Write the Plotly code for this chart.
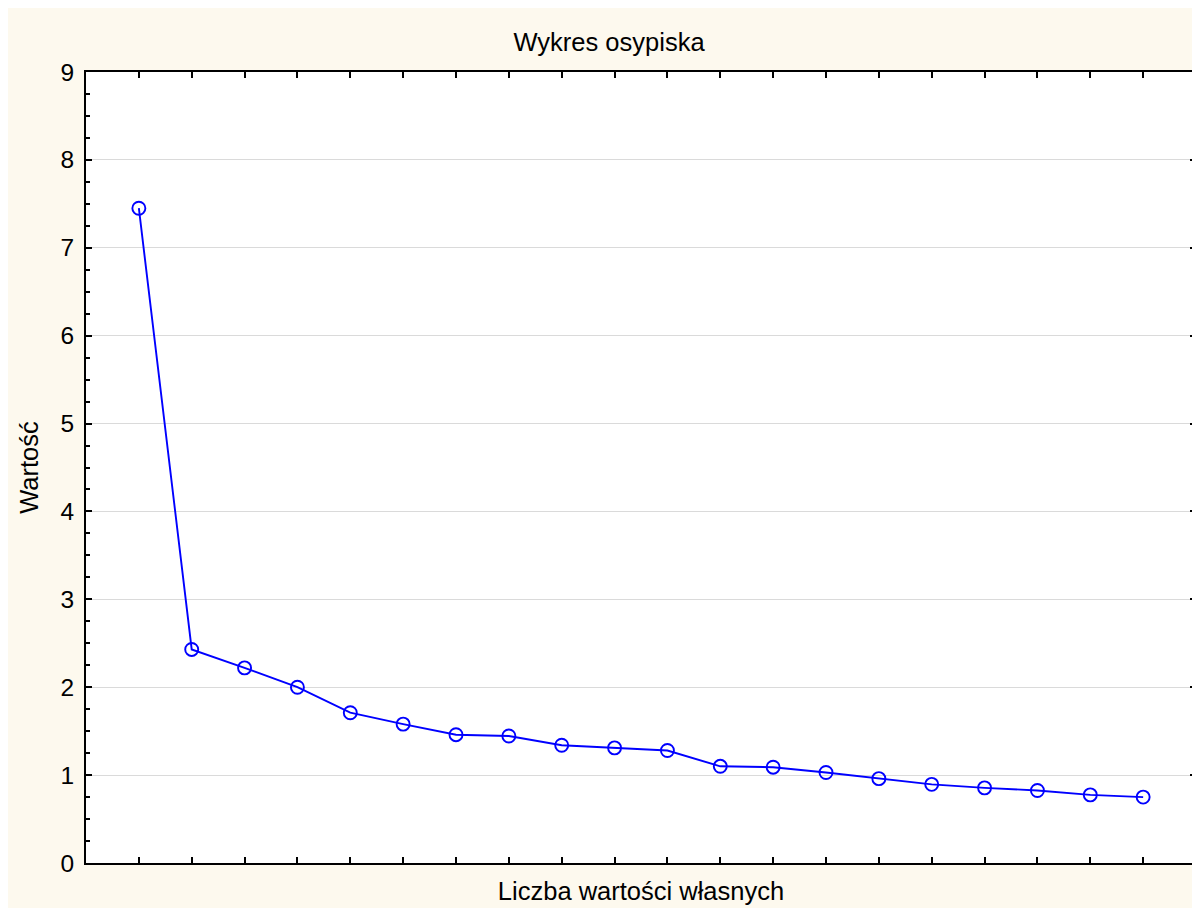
import plotly.graph_objects as go

components = list(range(1, 21))
eigenvalues = [7.45, 2.43, 2.22, 2.00, 1.71, 1.58, 1.46, 1.445, 1.34, 1.31,
               1.28, 1.10, 1.09, 1.03, 0.96, 0.895, 0.855, 0.825, 0.775, 0.75]
y_ticks = [0, 1, 2, 3, 4, 5, 6, 7, 8, 9]
title_text = "Wykres osypiska"
x_title = "Liczba wartości własnych"
y_title = "Wartość"

CREAM = "#FDF9EE"
FONT = "Liberation Sans, Arial, sans-serif"
FS = 25.5
TFS = 24.5

fig = go.Figure()
fig.add_trace(go.Scatter(
    x=components, y=eigenvalues, mode="lines+markers",
    line=dict(color="#0000FF", width=1.9),
    marker=dict(symbol="circle-open", size=13, color="#0000FF", line=dict(width=1.9)),
    showlegend=False, cliponaxis=False,
))

W, H = 1192, 900
L, T = 78, 64
pw, ph = 1112, 791
R = W - L - pw
B = H - T - ph

fig.update_layout(
    width=W, height=H,
    margin=dict(l=L, r=R, t=T, b=B),
    paper_bgcolor=CREAM, plot_bgcolor="white",
    font=dict(family=FONT, size=FS, color="black"),
    title=dict(text=title_text, x=(602 - L) / pw, xref="paper", xanchor="center",
               y=1 - 34 / H, yanchor="middle", yref="container",
               font=dict(size=FS, color="black")),
    xaxis=dict(range=[0, 21], tickvals=components, showticklabels=False,
               ticks="inside", ticklen=6, tickwidth=1.5, tickcolor="black",
               showline=True, linecolor="black", linewidth=2, mirror="allticks",
               showgrid=False, zeroline=False,
               title=dict(text=x_title, standoff=18, font=dict(size=FS))),
    yaxis=dict(range=[0, 9], tickvals=y_ticks, ticks="inside", ticklen=6, tickwidth=1.5,
               tickcolor="black", showline=True, linecolor="black", linewidth=2,
               mirror="allticks", showgrid=True, gridcolor="#DADADA", gridwidth=1,
               zeroline=False, ticklabelstandoff=5,
               tickfont=dict(size=TFS),
               minor=dict(dtick=0.25, ticks="inside", ticklen=4, tickwidth=1.5,
                          tickcolor="black", showgrid=False),
               title=dict(text=y_title, standoff=15, font=dict(size=FS))),
)

fig.write_html("out.html")
